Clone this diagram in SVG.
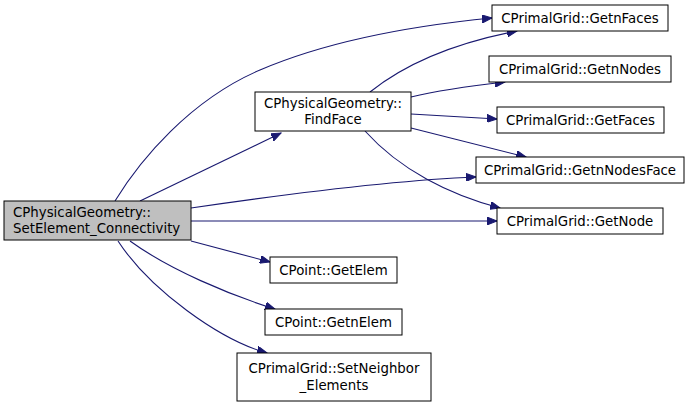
<svg xmlns="http://www.w3.org/2000/svg" width="691" height="407" viewBox="0 0 691 407">
<defs>
<marker id="arr" markerWidth="11" markerHeight="8" refX="10" refY="4" orient="auto" markerUnits="userSpaceOnUse">
<path d="M0,0 L10,4 L0,8 Z" fill="#191970" stroke="#191970" stroke-width="1"/>
</marker>
</defs>
<style>
.n rect{fill:#fff;stroke:#000;stroke-width:1}
.n.main rect{fill:#bfbfbf;stroke:#000}
.n text{font-family:"DejaVu Sans",sans-serif;font-size:13.33px;fill:#000;text-anchor:middle}
.n.main text{text-anchor:start}
.e path{fill:none;stroke:#191970;stroke-width:1.1;marker-end:url(#arr)}
</style>
<rect width="691" height="407" fill="#fff"/>
<g id="edges" class="e">
<path d="M115,201 C140,160 190,100 260,70 C330,40 420,25 492,18"/>
<path d="M140,201 L281,133"/>
<path d="M191,208 C280,195 400,180 476,177"/>
<path d="M191,221 L497,221"/>
<path d="M191,241 L270,262"/>
<path d="M130,241 C170,270 230,295 275,309"/>
<path d="M118,241 C150,290 220,340 267,353"/>
<path d="M370,92 C410,60 460,42 517,31"/>
<path d="M411,97 C440,90 470,86 505,82"/>
<path d="M411,114 L497,119"/>
<path d="M411,128 L526,157"/>
<path d="M365,131 C400,170 450,195 500,208"/>
</g>
<g id="main" class="n main"><rect x="4" y="201" width="187" height="39"/><text x="13" y="217">CPhysicalGeometry::</text><text x="13" y="233">SetElement_Connectivity</text></g>
<g id="findface" class="n"><rect x="255" y="92" width="156" height="39"/><text x="333" y="108">CPhysicalGeometry::</text><text x="333" y="124">FindFace</text></g>
<g id="getnfaces" class="n"><rect x="492" y="5" width="176" height="26"/><text x="580" y="23">CPrimalGrid::GetnFaces</text></g>
<g id="getnnodes" class="n"><rect x="489" y="56" width="182" height="26"/><text x="580" y="74">CPrimalGrid::GetnNodes</text></g>
<g id="getfaces" class="n"><rect x="497" y="107" width="167" height="26"/><text x="580.5" y="125">CPrimalGrid::GetFaces</text></g>
<g id="getnnodesface" class="n"><rect x="476" y="157" width="208" height="26"/><text x="580" y="175">CPrimalGrid::GetnNodesFace</text></g>
<g id="getnode" class="n"><rect x="497" y="208" width="166" height="26"/><text x="580" y="226">CPrimalGrid::GetNode</text></g>
<g id="getelem" class="n"><rect x="270" y="257" width="127" height="26"/><text x="333.5" y="275">CPoint::GetElem</text></g>
<g id="getnelem" class="n"><rect x="265" y="309" width="137" height="26"/><text x="333.5" y="327">CPoint::GetnElem</text></g>
<g id="setneighbor" class="n"><rect x="237" y="353" width="194" height="48"/><text x="334" y="373">CPrimalGrid::SetNeighbor</text><text x="334" y="390">_Elements</text></g>
</svg>
